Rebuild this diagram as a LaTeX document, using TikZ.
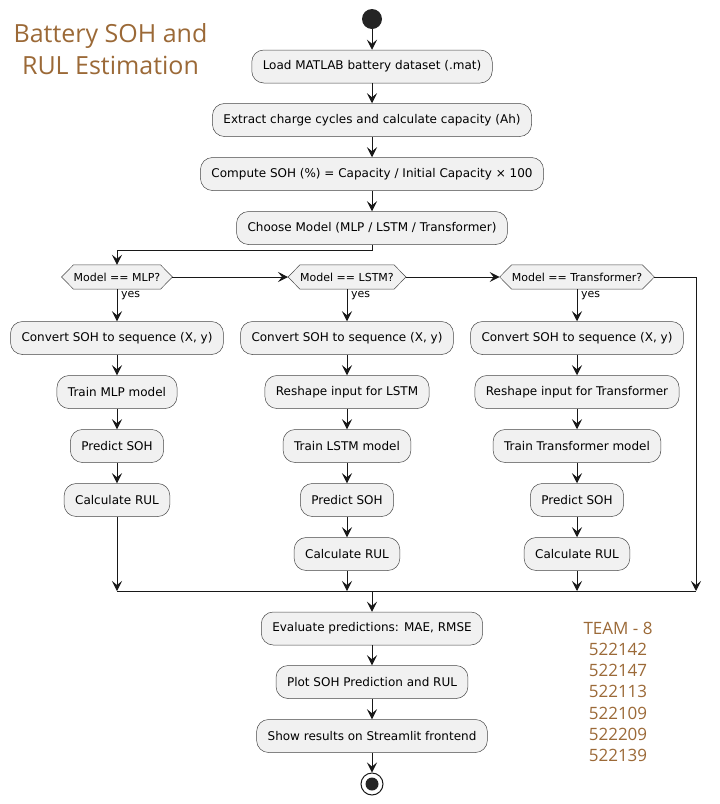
\documentclass[tikz,border=0pt]{standalone}
\usepackage{fontspec}
\setmainfont{DejaVu Sans}
\newfontfamily\titlefont{Open Sans}
\usetikzlibrary{arrows.meta,backgrounds,positioning}
\definecolor{boxfill}{HTML}{F1F1F1}
\definecolor{lineclr}{HTML}{181818}
\definecolor{brownish}{RGB}{155,105,55}
\tikzset{
  act/.style={draw=lineclr!80, line width=0.5pt, fill=boxfill, rounded corners=12pt,
    minimum height=33pt, inner xsep=11pt, inner ysep=0pt, font=\fontsize{12}{14}\selectfont, text=black},
  cond/.style={minimum height=24pt, inner xsep=12pt, inner ysep=0pt, font=\fontsize{11}{13}\selectfont, text=black},
  hexline/.style={draw=lineclr!80, line width=0.5pt, fill=boxfill},
  flow/.style={draw=lineclr, line width=1pt, -{Stealth[length=10pt,width=10pt,inset=4pt]}},
  plain/.style={draw=lineclr, line width=1pt},
  yeslbl/.style={font=\fontsize{11}{13}\selectfont, anchor=west, inner sep=0pt},
  ttl/.style={font=\titlefont\fontsize{25}{30}\selectfont, text=brownish, anchor=base, inner sep=0pt},
  team/.style={font=\titlefont\fontsize{17}{20}\selectfont, text=brownish, anchor=base, inner sep=0pt}
}
\newcommand{\hexa}[1]{%
  \begin{pgfonlayer}{background}
  \draw[hexline] (#1.west) -- ([xshift=12pt]#1.north west) -- ([xshift=-12pt]#1.north east) -- (#1.east) -- ([xshift=-12pt]#1.south east) -- ([xshift=12pt]#1.south west) -- cycle;
  \end{pgfonlayer}}
\begin{document}
\begin{tikzpicture}[x=1pt,y=-1pt]
\useasboundingbox (0,0) rectangle (720,804);
% title
\node[ttl] (title1) at (110.5,42) {Battery SOH and};
\node[ttl] (title2) at (110.5,74) {RUL Estimation};
% start
\node[circle, fill=lineclr!95, minimum size=20pt, inner sep=0pt] (start) at (372,19) {};
\node[act] (load) at (372,66.5) {Load MATLAB battery dataset (.mat)};
\node[act] (extract) at (372,120) {Extract charge cycles and calculate capacity (Ah)};
\node[act] (compute) at (372,174) {Compute SOH (\%) = Capacity / Initial Capacity × 100};
\node[act] (choose) at (372,228) {Choose Model (MLP / LSTM / Transformer)};
\draw[flow] (start) -- (load);
\draw[flow] (load) -- (extract);
\draw[flow] (extract) -- (compute);
\draw[flow] (compute) -- (choose);
% conditions
\node[cond] (d1) at (117,277) {Model == MLP?};
\node[cond] (d2) at (347,277) {Model == LSTM?};
\node[cond] (d3) at (577,277) {Model == Transformer?};
\hexa{d1}\hexa{d2}\hexa{d3}
\coordinate (split) at (372,250);
\draw[flow] (choose.south) -- (split) -| (d1.north);
\draw[flow] (d1.east) -- (d2.west);
\draw[flow] (d2.east) -- (d3.west);
% column 1
\node[act] (c1a) at (117,338) {Convert SOH to sequence (X, y)};
\node[act] (c1b) at (117,392) {Train MLP model};
\node[act] (c1c) at (117,446) {Predict SOH};
\node[act] (c1d) at (117,500) {Calculate RUL};
% column 2
\node[act] (c2a) at (347,338) {Convert SOH to sequence (X, y)};
\node[act] (c2b) at (347,392) {Reshape input for LSTM};
\node[act] (c2c) at (347,446) {Train LSTM model};
\node[act] (c2d) at (347,500) {Predict SOH};
\node[act] (c2e) at (347,554) {Calculate RUL};
% column 3
\node[act] (c3a) at (577,338) {Convert SOH to sequence (X, y)};
\node[act] (c3b) at (577,392) {Reshape input for Transformer};
\node[act] (c3c) at (577,446) {Train Transformer model};
\node[act] (c3d) at (577,500) {Predict SOH};
\node[act] (c3e) at (577,554) {Calculate RUL};
% yes branches
\draw[flow] (d1.south) -- (c1a.north);
\draw[flow] (d2.south) -- (c2a.north);
\draw[flow] (d3.south) -- (c3a.north);
\node[yeslbl] (y1) at (121,296) {yes};
\node[yeslbl] (y2) at (351,296) {yes};
\node[yeslbl] (y3) at (581,296) {yes};
\draw[flow] (c1a) -- (c1b);
\draw[flow] (c1b) -- (c1c);
\draw[flow] (c1c) -- (c1d);
\draw[flow] (c2a) -- (c2b);
\draw[flow] (c2b) -- (c2c);
\draw[flow] (c2c) -- (c2d);
\draw[flow] (c2d) -- (c2e);
\draw[flow] (c3a) -- (c3b);
\draw[flow] (c3b) -- (c3c);
\draw[flow] (c3c) -- (c3d);
\draw[flow] (c3d) -- (c3e);
% merge
\coordinate (m1) at (117,591);
\coordinate (m2) at (347,591);
\coordinate (m3) at (577,591);
\coordinate (mr) at (696,591);
\coordinate (mc) at (372,591);
\coordinate (rt) at (696,277);
\draw[plain] (m1) -- (mr);
\draw[flow] (c1d.south) -- (m1);
\draw[flow] (c2e.south) -- (m2);
\draw[flow] (c3e.south) -- (m3);
\draw[flow] (d3.east) -- (rt) -- (mr);
% final steps
\node[act] (eval) at (372,628.5) {Evaluate predictions: MAE, RMSE};
\node[act] (plot) at (372,682) {Plot SOH Prediction and RUL};
\node[act] (show) at (372,736) {Show results on Streamlit frontend};
\node[circle, draw=lineclr, line width=1pt, minimum size=22pt, inner sep=0pt] (stop) at (372,784) {};
\node[circle, fill=lineclr!95, minimum size=13pt, inner sep=0pt] (stopdot) at (372,784) {};
\draw[flow] (mc) -- (eval);
\draw[flow] (eval) -- (plot);
\draw[flow] (plot) -- (show);
\draw[flow] (show) -- (stop);
% team
\foreach \t [count=\i] in {TEAM - 8,522142,522147,522113,522109,522209,522139}{
  \node[team] (team\i) at (618,{634+21.3*(\i-1)}) {\t};
}
\end{tikzpicture}
\end{document}
